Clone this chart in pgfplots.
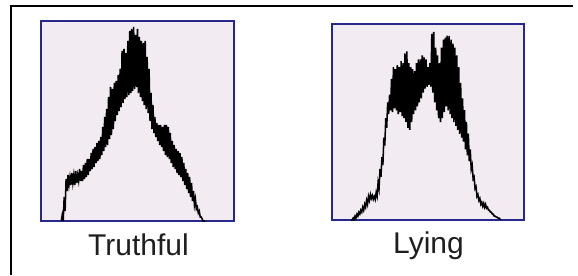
\documentclass[border=0pt]{standalone}
\usepackage{pgfplots}
\pgfplotsset{compat=1.18}
\usepackage{fontspec}
\setmainfont{Liberation Sans}
\definecolor{bgpink}{RGB}{243,235,242}
\definecolor{navy}{RGB}{40,40,140}
\definecolor{txt}{RGB}{30,30,30}
\pgfplotsset{panel/.style={
  anchor=south west, scale only axis,
  xmin=0, xmax=100, ymin=0, ymax=100,
  xtick=\empty, ytick=\empty,
  axis background/.style={fill=bgpink},
  axis line style={navy, line width=1.6pt},
}}
\begin{document}
\begin{tikzpicture}[x=0.75pt,y=0.75pt]
\useasboundingbox (0,0) rectangle (578,275);
\draw[line width=1.6pt, black] (11,0) -- (11,269) -- (573,269);
\begin{axis}[panel, at={(30.75pt,40.5pt)}, width=144.75pt, height=150pt]
\addplot[black, line width=1.15pt, line join=miter, mark=none] coordinates {
(10.5,0)
(11,3)(11.5,0)(12,12)(12.5,5)(13,21)(13.5,15)(14,23)(14.5,18)(15,22)(15.5,18)
(16,24)(16.5,19)(17,23)(17.5,18)(18,25)(18.5,19)(19,23)(19.5,20)(20,26)(20.5,20)
(21,25)(21.5,20)(22,28)(22.5,21)(23,29)(23.5,22)(24,31)(24.5,23)(25,31)(25.5,25)
(26,34)(26.5,26)(27,36)(27.5,27)(28,37)(28.5,29)(29,39)(29.5,30)(30,40)(30.5,31)
(31,42)(31.5,33)(32,47)(32.5,35)(33,52)(33.5,37)(34,56)(34.5,38)(35,62)(35.5,41)
(36,67)(36.5,43)(37,66)(37.5,46)(38,69)(38.5,50)(39,70)(39.5,53)(40,73)(40.5,55)
(41,76)(41.5,57)(42,85)(42.5,59)(43,86)(43.5,61)(44,84)(44.5,62)(45,90)(45.5,63)
(46,95)(46.5,64)(47,96)(47.5,65)(48,97)(48.5,66)(49,93)(49.5,67)(50,96)(50.5,64)
(51,92)(51.5,62)(52,90)(52.5,60)(53,89)(53.5,58)(54,90)(54.5,56)(55,82)(55.5,54)
(56,76)(56.5,50)(57,64)(57.5,46)(58,58)(58.5,44)(59,52)(59.5,42)(60,49)(60.5,40)
(61,48)(61.5,38)(62,48)(62.5,37)(63,47)(63.5,35)(64,48)(64.5,33)(65,48)(65.5,32)
(66,47)(66.5,31)(67,44)(67.5,29)(68,40)(68.5,27)(69,38)(69.5,26)(70,36)(70.5,24)
(71,35)(71.5,23)(72,34)(72.5,22)(73,32)(73.5,20)(74,29)(74.5,18)(75,26)(75.5,16)
(76,24)(76.5,14)(77,22)(77.5,12)(78,19)(78.5,10)(79,15)(79.5,8)(80,11)(80.5,6)
(81,7)(81.5,4)(82,5)(82.5,2)(83,2)(83.5,1)(84,0)(85,0)
};
\end{axis}
\begin{axis}[panel, at={(249pt,41.25pt)}, width=144pt, height=147pt]
\addplot[black, line width=1.15pt, line join=miter, mark=none] coordinates {
(10,0)(10.5,0)
(11,1)(11.5,0)(12,2)(12.5,1)(13,3)(13.5,2)(14,4)(14.5,3)(15,5)(15.5,4)
(16,6.5)(16.5,5)(17,8)(17.5,6.5)(18,10)(18.5,8)(19,12)(19.5,10)(20,13)(20.5,11)
(21,12.5)(21.5,10.5)(22,12)(22.5,10.5)(23,14)(23.5,12)(24,19)(24.5,16)(25,26)(25.5,22)
(26,32)(26.5,28)(27,42)(27.5,38)(28,52)(28.5,47)(29,60)(29.5,54)(30,64)(30.5,56)
(31,72)(31.5,55)(32,78)(32.5,57)(33,77)(33.5,56)(34,79)(34.5,54)(35,78)(35.5,55)
(36,81)(36.5,53)(37,80)(37.5,52)(38,85)(38.5,50)(39,86)(39.5,47)(40,80)(40.5,46)
(41,78)(41.5,50)(42,77)(42.5,54)(43,76)(43.5,56)(44,80)(44.5,58)(45,82)(45.5,60)
(46,82)(46.5,62)(47,84)(47.5,65)(48,83)(48.5,67)(49,82)(49.5,68)(50,78)(50.5,69)
(51,80)(51.5,68)(52,95)(52.5,65)(53,96)(53.5,60)(54,88)(54.5,56)(55,84)(55.5,52)
(56,80)(56.5,50)(57,88)(57.5,52)(58,92)(58.5,55)(59,93)(59.5,58)(60,94)(60.5,56)
(61,94)(61.5,54)(62,92)(62.5,52)(63,90)(63.5,50)(64,88)(64.5,48)(65,84)(65.5,46)
(66,78)(66.5,44)(67,70)(67.5,42)(68,62)(68.5,40)(69,56)(69.5,36)(70,50)(70.5,33)
(71,44)(71.5,30)(72,36)(72.5,26)(73,28)(73.5,21)(74,22)(74.5,16)(75,17)(75.5,12)
(76,13)(76.5,10)(77,11)(77.5,8)(78,9)(78.5,7)(79,8.5)(79.5,6.5)(80,8)(80.5,6)
(81,6.5)(81.5,5)(82,5)(82.5,4)(83,4)(83.5,3)(84,3)(84.5,2)(85,2)(85.5,1.5)
(86,1.5)(86.5,1)(87,1)(87.5,0.5)(88,0)
};
\end{axis}
\node[anchor=base, font=\fontsize{22.5pt}{26pt}\selectfont, text=txt, inner sep=0pt] at (138.5,20) {Truthful};
\node[anchor=base, font=\fontsize{22.5pt}{26pt}\selectfont, text=txt, inner sep=0pt] at (428.5,22) {Lying};
\end{tikzpicture}
\end{document}
